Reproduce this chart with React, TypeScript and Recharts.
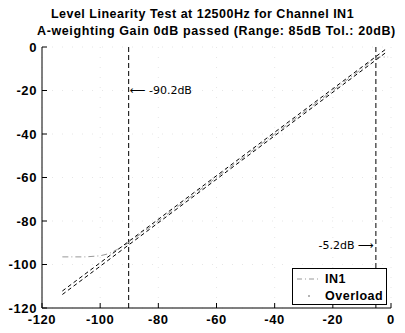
import { CartesianGrid, Legend, Line, LineChart, ReferenceDot, ReferenceLine, XAxis, YAxis } from "recharts";

// input level (dB) on x, measured level (dB) on y
const in1Input = [-113, -105, -100, -97, -94, -91, -80, -60, -40, -20, -10, -6, -4, -1];
const in1Level = [-96.5, -96.5, -96, -95, -93, -90.7, -80, -60, -40, -20, -10, -5.6, -4.6, -4.6];

const bandInput = [-113, -1.5];
const bandUpper = [-112.2, -0.7];
const bandLower = [-113.8, -2.3];

const rangeLimits = [-90.2, -5.2];
const rangeLabels = ["\u27F5 -90.2dB", "-5.2dB \u27F6"];
const labelLevels = [-20, -91];

const xTicks = [-120, -100, -80, -60, -40, -20, 0];
const yTicks = [0, -20, -40, -60, -80, -100, -120];

const in1Data = in1Input.map((x, i) => ({ x, y: in1Level[i] }));
const upperData = bandInput.map((x, i) => ({ x, y: bandUpper[i] }));
const lowerData = bandInput.map((x, i) => ({ x, y: bandLower[i] }));

const font = "'Liberation Sans', Arial, sans-serif";
const tickStyle = { fontFamily: font, fontSize: 13, fontWeight: 700, fill: "#000", letterSpacing: 0.6 };
const noteStyle = { fontFamily: "'DejaVu Sans', sans-serif", fontSize: 11, fill: "#000" };

function LegendBox() {
  return (
    <div
      style={{
        width: 95,
        height: 37,
        border: "1px solid #000",
        background: "#fff",
        fontFamily: font,
        fontSize: 12.5,
        fontWeight: 700,
        letterSpacing: 0.5,
        boxSizing: "border-box",
        paddingTop: 1,
      }}
    >
      <div style={{ display: "flex", alignItems: "center", height: 17 }}>
        <svg width={30} height={10}>
          <line x1={4} y1={5} x2={28} y2={5} stroke="#999" strokeDasharray="5 3 1 3" />
        </svg>
        <span style={{ marginLeft: 2 }}>IN1</span>
      </div>
      <div style={{ display: "flex", alignItems: "center", height: 17 }}>
        <svg width={30} height={10}>
          <circle cx={16} cy={5} r={0.8} fill="#555" />
        </svg>
        <span style={{ marginLeft: 2 }}>Overload</span>
      </div>
    </div>
  );
}

export default function App() {
  return (
    <div style={{ position: "absolute", left: 0, top: 0, width: 405, height: 333, background: "#fff", overflow: "hidden" }}>
      <div
        style={{
          position: "absolute",
          left: 0,
          top: 6,
          width: 405,
          textAlign: "center",
          fontFamily: font,
          fontSize: 12.5,
          fontWeight: 700,
          lineHeight: "17px",
          whiteSpace: "nowrap",
        }}
      >
        <div style={{ letterSpacing: 0.5 }}>Level Linearity Test at 12500Hz for Channel IN1</div>
        <div style={{ letterSpacing: 0.6, marginLeft: 28 }}>A-weighting Gain 0dB passed (Range: 85dB Tol.: 20dB)</div>
      </div>
      <LineChart width={405} height={333} margin={{ top: 47, right: 14, bottom: 0, left: 0 }}>
        <CartesianGrid stroke="#e6e6e6" strokeDasharray="1 9" />
        <XAxis
          dataKey="x"
          type="number"
          domain={[-120, 0]}
          ticks={xTicks}
          height={25}
          tickSize={-5}
          tickMargin={12}
          tick={tickStyle}
          stroke="#000"
          allowDataOverflow
        />
        <XAxis
          xAxisId="top"
          orientation="top"
          type="number"
          domain={[-120, 0]}
          ticks={xTicks}
          height={0}
          tickSize={-5}
          tickFormatter={() => ""}
          stroke="#000"
        />
        <YAxis
          type="number"
          domain={[-120, 0]}
          ticks={yTicks}
          width={42}
          tickSize={-5}
          tickMargin={10}
          tick={tickStyle}
          stroke="#000"
          allowDataOverflow
        />
        <YAxis
          yAxisId="right"
          orientation="right"
          type="number"
          domain={[-120, 0]}
          ticks={yTicks}
          width={0}
          tickSize={-5}
          tickFormatter={() => ""}
          stroke="#000"
        />
        {rangeLimits.map((x) => (
          <ReferenceLine key={x} x={x} stroke="#000" strokeDasharray="5 3" />
        ))}
        <Line data={in1Data} dataKey="y" type="linear" stroke="#999" strokeWidth={1} strokeDasharray="6 3 1 3" dot={false} isAnimationActive={false} />
        <Line data={upperData} dataKey="y" type="linear" stroke="#000" strokeWidth={1} strokeDasharray="4 3" dot={false} isAnimationActive={false} legendType="none" />
        <Line data={lowerData} dataKey="y" type="linear" stroke="#000" strokeWidth={1} strokeDasharray="4 3" dot={false} isAnimationActive={false} legendType="none" />
        <ReferenceDot
          x={rangeLimits[0]}
          y={labelLevels[0]}
          r={0}
          label={{ value: rangeLabels[0], position: "right", offset: 1, ...noteStyle }}
        />
        <ReferenceDot
          x={rangeLimits[1]}
          y={labelLevels[1]}
          r={0}
          label={{ value: rangeLabels[1], position: "left", offset: 2, ...noteStyle }}
        />
        <Legend
          layout="vertical"
          align="center"
          verticalAlign="middle"
          content={() => <LegendBox />}
          wrapperStyle={{ left: 292, top: 268, width: 95 }}
        />
      </LineChart>
    </div>
  );
}
